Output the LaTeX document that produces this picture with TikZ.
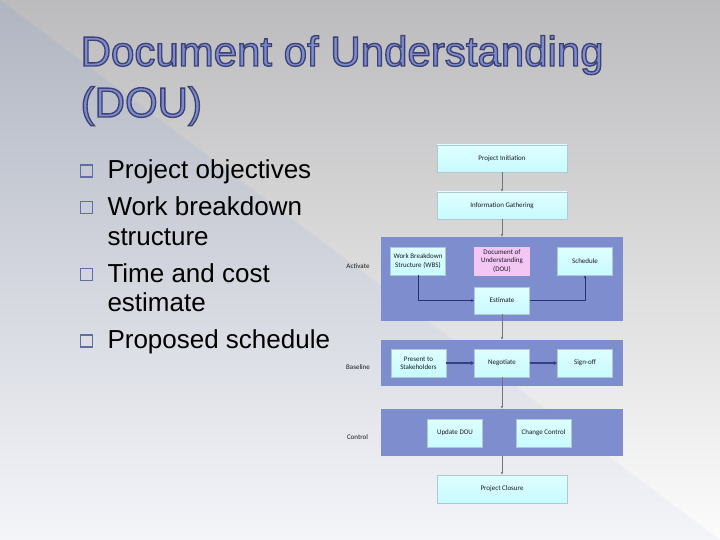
\documentclass[tikz,border=0pt]{standalone}
\usepackage{fontspec}
\setmainfont{Liberation Sans}
\newfontfamily\diagfont{Carlito}
\newfontfamily\titlefont{Liberation Sans}[FakeBold=3.2]
\usetikzlibrary{arrows.meta}
\definecolor{bgtop}{RGB}{188,188,190}
\definecolor{bgmid}{RGB}{236,236,237}
\definecolor{bgbot}{RGB}{252,252,252}
\definecolor{bltop}{RGB}{176,181,193}
\definecolor{blmid}{RGB}{216,219,228}
\definecolor{blbot}{RGB}{244,245,249}
\definecolor{bulc}{RGB}{98,108,165}
\definecolor{bandc}{RGB}{126,141,206}
\definecolor{boxtop}{RGB}{222,255,255}
\definecolor{boxbot}{RGB}{200,250,254}
\definecolor{boxline}{RGB}{175,200,212}
\definecolor{pinkc}{RGB}{244,198,244}
\definecolor{graya}{RGB}{115,115,125}
\definecolor{navya}{RGB}{40,50,110}
\definecolor{thicka}{RGB}{55,65,130}
\definecolor{dtext}{RGB}{25,25,35}
% fill colour (blue) and stroke colour (dark navy) for the outlined title
\newcommand\outltext[1]{\special{pdf:bcolor [0.49 0.55 0.82] [0.24 0.26 0.45]}#1\special{pdf:ecolor}}
\tikzset{
  titletext/.style={anchor=base west, inner sep=0pt, font=\titlefont\fontsize{42}{50}\selectfont},
  bulletsq/.style={draw=bulc, line width=1.5pt, minimum size=12pt, inner sep=0pt},
  btext/.style={anchor=base west, inner sep=0pt, text=black, font=\fontsize{26}{30}\selectfont},
  flowbox/.style={draw=boxline, line width=0.4pt, top color=boxtop, bottom color=boxbot,
    minimum width=55pt, minimum height=28pt, inner sep=1pt, align=center, text=dtext,
    font=\diagfont\fontsize{7}{8.4}\selectfont},
  widebox/.style={flowbox, minimum width=130pt, minimum height=27pt},
  band/.style={fill=bandc, draw=none, minimum width=242pt, inner sep=0pt},
  lanelabel/.style={inner sep=0pt, text=dtext, font=\diagfont\fontsize{7}{8}\selectfont},
  grayarrow/.style={draw=graya, line width=0.5pt, -{Latex[length=2.6pt,width=2.4pt]}},
  navyarrow/.style={draw=navya, line width=0.7pt, -{Latex[length=3pt,width=2.8pt]}},
  thickarrow/.style={draw=thicka, line width=1.8pt, -{Latex[length=3.5pt,width=4.2pt]}}
}
\begin{document}
\begin{tikzpicture}[x=1pt,y=-1pt]
\useasboundingbox (0,0) rectangle (720,540);
% background
\shade[top color=bgtop, middle color=bgmid, bottom color=bgbot] (0,0) rectangle (720,540);
\shade[top color=bltop, middle color=blmid, bottom color=blbot] (0,0) -- (720,540) -- (0,540) -- cycle;
% title
\node[titletext] (title1) at (80.5,66) {\outltext{Document of Understanding}};
\node[titletext] (title2) at (80.5,117) {\outltext{(DOU)}};
% bullets
\node[bulletsq] (b1) at (86.5,171) {};
\node[bulletsq] (b2) at (86.5,207.5) {};
\node[bulletsq] (b3) at (86.5,274.5) {};
\node[bulletsq] (b4) at (86.5,341) {};
\node[btext] (t1) at (107.3,178.3) {Project objectives};
\node[btext] (t2) at (107.3,215.7) {Work breakdown};
\node[btext] (t2b) at (107.3,245.2) {structure};
\node[btext] (t3) at (107.3,282.3) {Time and cost};
\node[btext] (t3b) at (107.3,311.7) {estimate};
\node[btext] (t4) at (107.3,348.5) {Proposed schedule};
% bands
\node[band, minimum height=84pt] (act) at (502,279) {};
\node[band, minimum height=46pt] (bl) at (502,363) {};
\node[band, minimum height=47pt] (ctrl) at (502,432.5) {};
% lane labels
\node[lanelabel] (lact) at (358,266) {Activate};
\node[lanelabel] (lbl) at (358,367.3) {Baseline};
\node[lanelabel] (lctrl) at (357.5,437) {Control};
% boxes
\node[widebox] (init) at (502,158.5) {Project Initiation};
\node[widebox] (info) at (502,205.5) {Information Gathering};
\node[flowbox] (wbs) at (418,261) {Work Breakdown\\Structure (WBS)};
\node[flowbox, top color=pinkc, bottom color=pinkc, draw=pinkc] (dou) at (502,261) {Document of\\Understanding\\(DOU)};
\node[flowbox] (sched) at (585,261) {Schedule};
\node[flowbox, minimum height=27pt] (est) at (502,300.5) {Estimate};
\node[flowbox] (pres) at (418.5,363) {Present to\\Stakeholders};
\node[flowbox] (nego) at (502,363) {Negotiate};
\node[flowbox] (sign) at (585,363) {Sign-off};
\node[flowbox] (upd) at (455,433) {Update DOU};
\node[flowbox] (chg) at (543.5,433) {Change Control};
\node[widebox, minimum height=28pt] (close) at (502,489) {Project Closure};
% connectors
\draw[grayarrow] (init.south) -- (info.north);
\draw[grayarrow] (info.south) -- (act.north);
\draw[navyarrow] (wbs.south) |- (est.west);
\draw[navyarrow] (est.east) -| (sched.south);
\draw[grayarrow] (est.south) -- (bl.north);
\draw[thickarrow] (pres.east) -- (nego.west);
\draw[thickarrow] (nego.east) -- (sign.west);
\draw[grayarrow] (nego.south) -- (ctrl.north);
\draw[grayarrow] (ctrl.south) -- (close.north);
\end{tikzpicture}
\end{document}
